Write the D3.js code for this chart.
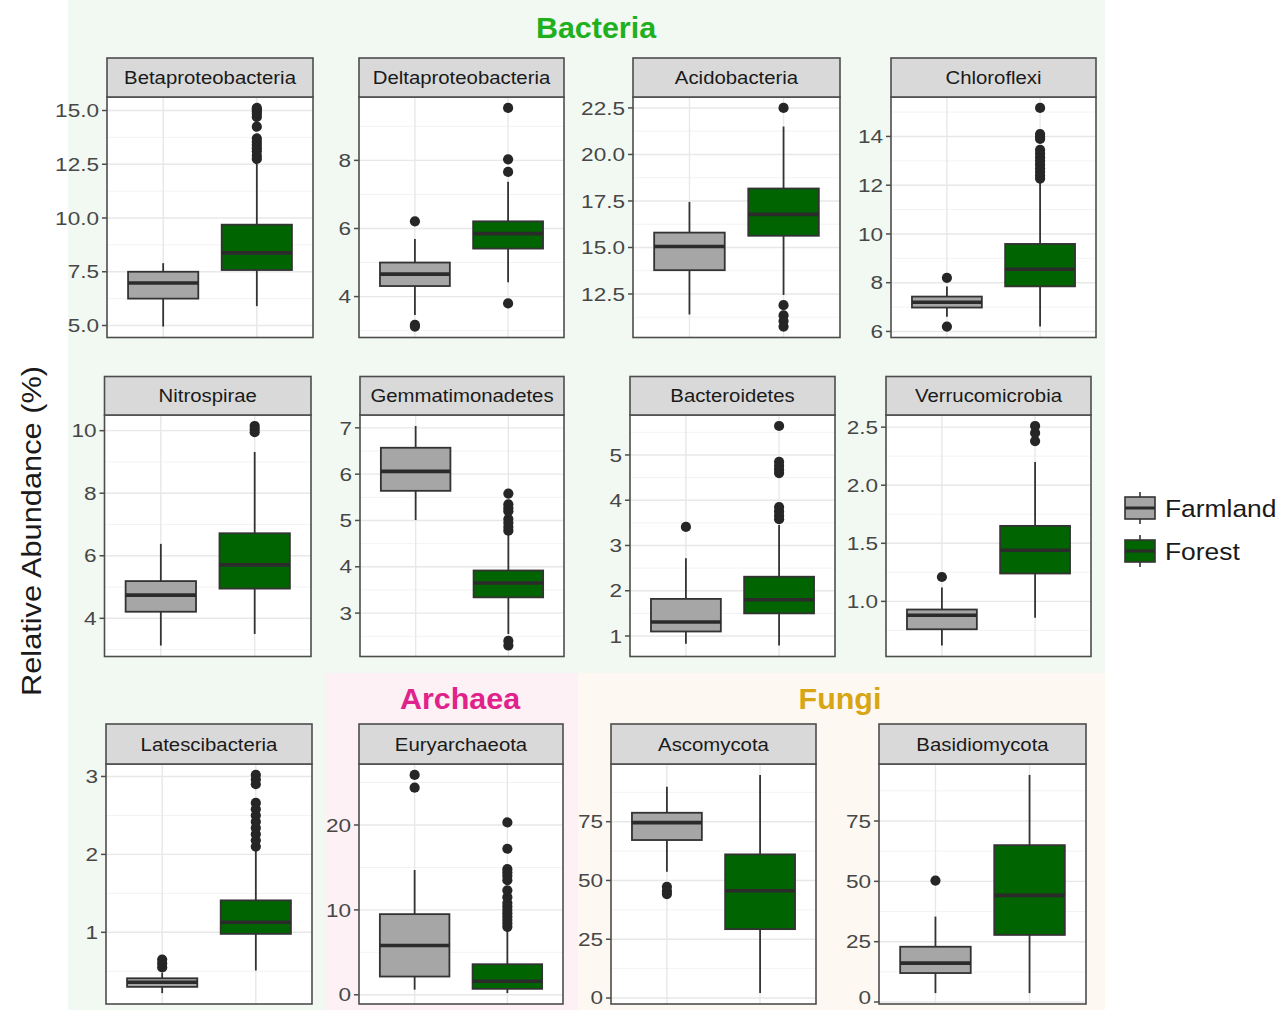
<!DOCTYPE html>
<html>
<head>
<meta charset="utf-8">
<script src="https://cdn.jsdelivr.net/npm/d3@7"></script>
<style>
  body { margin: 0; background: #ffffff; }
  svg { display: block; }
</style>
</head>
<body>
<svg id="chart" width="1281" height="1010"></svg>
<script>
// ---------- data ----------
const groups = ["Farmland", "Forest"];
const phyla = [
  "Betaproteobacteria", "Deltaproteobacteria", "Acidobacteria", "Chloroflexi",
  "Nitrospirae", "Gemmatimonadetes", "Bacteroidetes", "Verrucomicrobia",
  "Latescibacteria", "Euryarchaeota", "Ascomycota", "Basidiomycota"
];
const kingdoms = ["Bacteria", "Archaea", "Fungi"];

// box statistics: [lower whisker, Q1, median, Q3, upper whisker]
const farmlandStats = [
  [4.95, 6.25, 6.98, 7.5, 7.9],
  [3.46, 4.31, 4.66, 5.0, 5.69],
  [11.4, 13.78, 15.05, 15.8, 17.45],
  [6.6, 6.98, 7.2, 7.43, 7.84],
  [3.13, 4.21, 4.74, 5.19, 6.38],
  [5.01, 5.64, 6.06, 6.57, 7.04],
  [0.83, 1.1, 1.31, 1.82, 2.72],
  [0.62, 0.76, 0.88, 0.93, 1.12],
  [0.22, 0.3, 0.36, 0.41, 0.48],
  [0.6, 2.15, 5.8, 9.5, 14.7],
  [53.7, 67.2, 74.6, 78.8, 89.9],
  [3.7, 12.0, 16.1, 22.9, 35.4]
];
const forestStats = [
  [5.9, 7.58, 8.38, 9.69, 12.6],
  [4.42, 5.41, 5.85, 6.21, 7.37],
  [12.45, 15.63, 16.78, 18.17, 21.5],
  [6.2, 7.85, 8.55, 9.59, 12.15],
  [3.5, 4.95, 5.71, 6.72, 9.32],
  [2.55, 3.34, 3.65, 3.92, 4.7],
  [0.79, 1.5, 1.8, 2.31, 3.45],
  [0.86, 1.24, 1.44, 1.65, 2.2],
  [0.51, 0.98, 1.13, 1.41, 2.05],
  [0.2, 0.7, 1.6, 3.6, 7.6],
  [2.1, 29.3, 45.6, 61.1, 94.9],
  [3.7, 27.8, 44.2, 65.0, 94.1]
];
const farmlandOutliers = [
  [],
  [6.21, 3.17, 3.12],
  [],
  [8.2, 6.2],
  [],
  [],
  [3.41],
  [1.21],
  [0.55, 0.6, 0.65],
  [24.4, 25.9],
  [47.3, 45.5, 44.2],
  [50.3]
];
const forestOutliers = [
  [12.75, 12.9, 13.1, 13.25, 13.4, 13.55, 13.7, 14.25, 14.7, 14.85, 14.95, 15.05, 15.12],
  [9.54, 8.03, 7.66, 3.8],
  [22.5, 11.9, 11.35, 11.05, 10.75],
  [12.27, 12.4, 12.55, 12.7, 12.85, 13.0, 13.15, 13.3, 13.45, 13.9, 14.0, 14.1, 15.17],
  [9.95, 10.05, 10.15],
  [4.78, 4.86, 4.95, 5.03, 5.2, 5.27, 5.35, 5.58, 2.4, 2.3],
  [3.58, 3.66, 3.75, 3.85, 4.6, 4.68, 4.76, 4.85, 5.64],
  [2.38, 2.45, 2.51],
  [2.1, 2.18, 2.26, 2.34, 2.42, 2.5, 2.58, 2.66, 2.9, 2.96, 3.02],
  [8.0, 8.4, 8.8, 9.2, 9.6, 10.0, 10.4, 10.8, 11.5, 12.3, 13.5, 14.0, 14.4, 14.8, 17.2, 20.3],
  [],
  []
];
const tickValues = [
  [5, 7.5, 10, 12.5, 15],
  [4, 6, 8],
  [12.5, 15, 17.5, 20, 22.5],
  [6, 8, 10, 12, 14],
  [4, 6, 8, 10],
  [3, 4, 5, 6, 7],
  [1, 2, 3, 4, 5],
  [1.0, 1.5, 2.0, 2.5],
  [1, 2, 3],
  [0, 10, 20],
  [0, 25, 50, 75],
  [0, 25, 50, 75]
];
const tickLabels = [
  ["5.0", "7.5", "10.0", "12.5", "15.0"],
  ["4", "6", "8"],
  ["12.5", "15.0", "17.5", "20.0", "22.5"],
  ["6", "8", "10", "12", "14"],
  ["4", "6", "8", "10"],
  ["3", "4", "5", "6", "7"],
  ["1", "2", "3", "4", "5"],
  ["1.0", "1.5", "2.0", "2.5"],
  ["1", "2", "3"],
  ["0", "10", "20"],
  ["0", "25", "50", "75"],
  ["0", "25", "50", "75"]
];

// ---------- layout & style ----------
const FONT = "'Liberation Sans', Arial, Helvetica, sans-serif";
const fillColor = { Farmland: "#a6a6a6", Forest: "#006400" };
const rows = [
  { strip: 58, top: 97, bottom: 337.5 },
  { strip: 376.5, top: 415, bottom: 656.5 },
  { strip: 724, top: 764, bottom: 1004 }
];
// [left, right] of each panel's plotting area
const panelX = [
  [107, 313], [359, 564], [633, 840], [891, 1096],
  [104.5, 311], [360, 564], [630, 835], [886, 1091],
  [106, 312], [359, 563], [611, 816], [879, 1086]
];

const svg = d3.select("#chart");

// tinted background regions for the three kingdoms
const bg = svg.append("g");
bg.append("rect").attr("x", 68).attr("y", 0).attr("width", 1037).attr("height", 673).attr("fill", "#f2f9f2");
bg.append("rect").attr("x", 68).attr("y", 673).attr("width", 257).attr("height", 337).attr("fill", "#f2f9f2");
bg.append("rect").attr("x", 325).attr("y", 673).attr("width", 253).attr("height", 337).attr("fill", "#fdf1f5");
bg.append("rect").attr("x", 578).attr("y", 673).attr("width", 527).attr("height", 337).attr("fill", "#fdf9f2");

// horizontally stretched text helper
function label(g, x, y, text, opts) {
  const sx = opts.sx || 1;
  return g.append("text")
    .attr("transform", `translate(${x},${y}) scale(${sx},1)`)
    .attr("text-anchor", opts.anchor || "middle")
    .attr("font-family", FONT)
    .attr("font-size", opts.size)
    .attr("font-weight", opts.weight || "normal")
    .attr("fill", opts.fill || "#1a1a1a")
    .text(text);
}

// kingdom titles
const kingdomPos = [[596, 38, "#1fb020"], [460, 709, "#e0238a"], [840, 709, "#d8a514"]];
kingdoms.forEach((k, i) => {
  label(svg, kingdomPos[i][0], kingdomPos[i][1], k, { size: 29, weight: "bold", fill: kingdomPos[i][2], sx: 1.05 });
});

// y axis title
svg.append("text")
  .attr("transform", "translate(41,531) rotate(-90) scale(1.14,1)")
  .attr("text-anchor", "middle")
  .attr("font-family", FONT)
  .attr("font-size", 27)
  .attr("fill", "#1a1a1a")
  .text("Relative Abundance (%)");

// ---------- panels ----------
phyla.forEach((name, i) => {
  const row = rows[Math.floor(i / 4)];
  const [x0, x1] = panelX[i];
  const g = svg.append("g");

  const allVals = farmlandStats[i].concat(forestStats[i], farmlandOutliers[i], forestOutliers[i]);
  const [mn, mx] = d3.extent(allVals);
  const pad = (mx - mn) * 0.05;
  const y = d3.scaleLinear().domain([mn - pad, mx + pad]).range([row.bottom, row.top]);
  // discrete positions: centres at 0.6 and 1.6 units of a 2.2 unit wide panel
  const xc = d3.scalePoint().domain(groups).range([x0 + (x1 - x0) * 0.6 / 2.2, x1 - (x1 - x0) * 0.6 / 2.2]);
  const unit = (x1 - x0) / 2.2;
  const boxW = unit * 0.75;

  // panel background
  g.append("rect").attr("x", x0).attr("y", row.top).attr("width", x1 - x0).attr("height", row.bottom - row.top).attr("fill", "#ffffff");

  // minor grid
  const ticks = tickValues[i];
  const step = ticks[1] - ticks[0];
  const minors = [];
  for (let v = ticks[0] - step / 2; v <= mx + pad; v += step) {
    if (v >= mn - pad) minors.push(v);
  }
  g.selectAll(".minor").data(minors).enter().append("line")
    .attr("x1", x0).attr("x2", x1)
    .attr("y1", d => y(d)).attr("y2", d => y(d))
    .attr("stroke", "#f3f3f3").attr("stroke-width", 1);
  // major grid
  g.selectAll(".major").data(ticks).enter().append("line")
    .attr("x1", x0).attr("x2", x1)
    .attr("y1", d => y(d)).attr("y2", d => y(d))
    .attr("stroke", "#e8e8e8").attr("stroke-width", 1.4);
  g.selectAll(".vmajor").data(groups).enter().append("line")
    .attr("x1", d => xc(d)).attr("x2", d => xc(d))
    .attr("y1", row.top).attr("y2", row.bottom)
    .attr("stroke", "#e8e8e8").attr("stroke-width", 1.4);

  // boxes
  groups.forEach((grp, gi) => {
    const s = gi === 0 ? farmlandStats[i] : forestStats[i];
    const outs = gi === 0 ? farmlandOutliers[i] : forestOutliers[i];
    const cx = xc(grp);
    const bx = g.append("g");
    bx.append("line").attr("x1", cx).attr("x2", cx).attr("y1", y(s[0])).attr("y2", y(s[1]))
      .attr("stroke", "#333333").attr("stroke-width", 1.8);
    bx.append("line").attr("x1", cx).attr("x2", cx).attr("y1", y(s[3])).attr("y2", y(s[4]))
      .attr("stroke", "#333333").attr("stroke-width", 1.8);
    bx.append("rect")
      .attr("x", cx - boxW / 2).attr("width", boxW)
      .attr("y", y(s[3])).attr("height", y(s[1]) - y(s[3]))
      .attr("fill", fillColor[grp]).attr("stroke", "#333333").attr("stroke-width", 1.8);
    bx.append("line").attr("x1", cx - boxW / 2).attr("x2", cx + boxW / 2)
      .attr("y1", y(s[2])).attr("y2", y(s[2]))
      .attr("stroke", "#2b2b2b").attr("stroke-width", 3.6);
    bx.selectAll("circle").data(outs).enter().append("circle")
      .attr("cx", cx).attr("cy", d => y(d)).attr("r", 5.1).attr("fill", "#262626");
  });

  // panel border
  g.append("rect").attr("x", x0).attr("y", row.top).attr("width", x1 - x0).attr("height", row.bottom - row.top)
    .attr("fill", "none").attr("stroke", "#4d4d4d").attr("stroke-width", 1.6);

  // strip
  g.append("rect").attr("x", x0).attr("y", row.strip).attr("width", x1 - x0).attr("height", row.top - row.strip)
    .attr("fill", "#d9d9d9").attr("stroke", "#4d4d4d").attr("stroke-width", 1.6);
  label(g, (x0 + x1) / 2, (row.strip + row.top) / 2 + 6.5, name, { size: 18.5, sx: 1.1, fill: "#1a1a1a" });

  // y axis ticks + labels (kept inside the canvas at the bottom edge)
  ticks.forEach((t, k) => {
    g.append("line").attr("x1", x0 - 5).attr("x2", x0).attr("y1", y(t)).attr("y2", y(t))
      .attr("stroke", "#4d4d4d").attr("stroke-width", 1.5);
    label(g, x0 - 8, Math.min(y(t) + 6.7, 1004), tickLabels[i][k], { size: 18.8, sx: 1.2, anchor: "end", fill: "#474747" });
  });
});

// ---------- legend ----------
const legend = svg.append("g");
groups.forEach((grp, i) => {
  const ky = 508 + i * 43;
  legend.append("line").attr("x1", 1140).attr("x2", 1140).attr("y1", ky - 16).attr("y2", ky + 16)
    .attr("stroke", "#333333").attr("stroke-width", 1.6);
  legend.append("rect").attr("x", 1125).attr("y", ky - 11).attr("width", 30).attr("height", 22)
    .attr("fill", fillColor[grp]).attr("stroke", "#333333").attr("stroke-width", 1.6);
  legend.append("line").attr("x1", 1125).attr("x2", 1155).attr("y1", ky).attr("y2", ky)
    .attr("stroke", "#2b2b2b").attr("stroke-width", 3);
  label(legend, 1165, ky + 8.5, grp, { size: 24, sx: 1.1, anchor: "start", fill: "#1a1a1a" });
});
</script>
</body>
</html>
